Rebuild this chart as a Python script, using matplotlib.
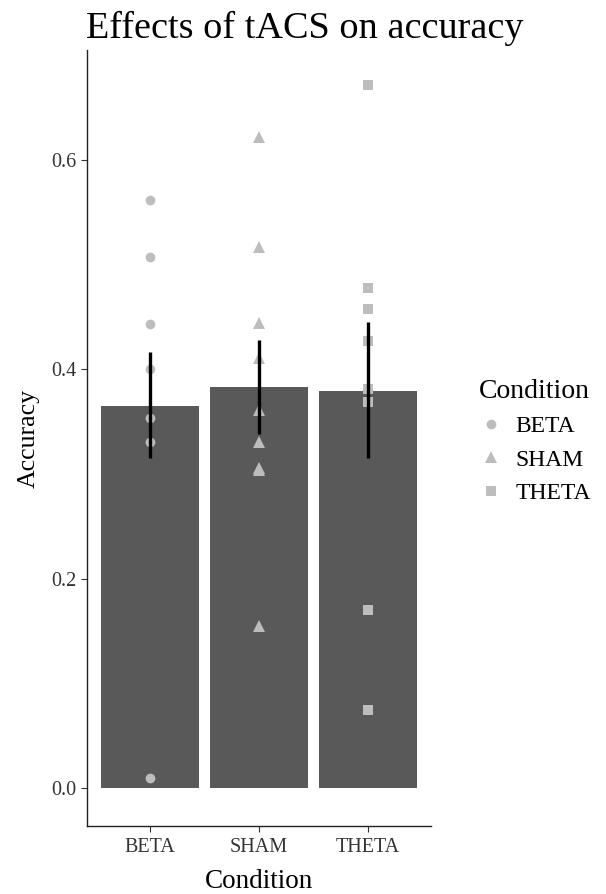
import matplotlib
matplotlib.use("Agg")
import matplotlib.pyplot as plt
from matplotlib.lines import Line2D

# --- data ---
conditions = ["BETA", "SHAM", "THETA"]
bar_means = [0.365, 0.383, 0.379]
err_low = [0.315, 0.338, 0.315]
err_high = [0.417, 0.428, 0.445]

beta_points = [0.562, 0.507, 0.443, 0.400, 0.354, 0.331, 0.010]
sham_points = [0.622, 0.517, 0.444, 0.411, 0.361, 0.331, 0.306, 0.304, 0.155]
theta_points = [0.672, 0.478, 0.458, 0.427, 0.381, 0.369, 0.170, 0.075]

point_sets = [beta_points, sham_points, theta_points]
markers = ["o", "^", "s"]
marker_sizes = [7, 8, 7.5]

plt.rcParams["font.family"] = ["Liberation Serif", "DejaVu Serif"]

BAR_COLOR = "#595959"
PT_COLOR = "#BDBDBD"

fig = plt.figure(figsize=(6.06, 8.94), dpi=100)
ax = fig.add_axes([0.1436, 0.0761, 0.5674, 0.8679])

x = list(range(1, len(conditions) + 1))
ax.bar(x, bar_means, width=0.9, color=BAR_COLOR, zorder=1)

for xi, pts, mk, ms in zip(x, point_sets, markers, marker_sizes):
    ax.plot([xi] * len(pts), pts, linestyle="none", marker=mk,
            markersize=ms, color=PT_COLOR, markeredgewidth=0, zorder=2)

for xi, lo, hi in zip(x, err_low, err_high):
    ax.plot([xi, xi], [lo, hi], color="black", linewidth=2.4,
            solid_capstyle="butt", zorder=3)

ax.set_xlim(0.42, 3.58)
ax.set_ylim(-0.036, 0.705)
ax.set_xticks(x)
ax.set_xticklabels(conditions)
ax.set_yticks([0.0, 0.2, 0.4, 0.6])
ax.set_yticklabels(["0.0", "0.2", "0.4", "0.6"])
ax.tick_params(axis="both", direction="out", length=4, width=0.8,
               labelsize=14.5, colors="#333333", labelcolor="#333333")
ax.tick_params(axis="x", pad=5)

for side in ["top", "right"]:
    ax.spines[side].set_visible(False)
for side in ["left", "bottom"]:
    ax.spines[side].set_linewidth(1.0)
    ax.spines[side].set_color("#222222")

ax.set_xlabel("Condition", fontsize=19.5, labelpad=8)
ax.set_ylabel("Accuracy", fontsize=18.5, labelpad=8)
ax.set_title("Effects of tACS on accuracy", fontsize=27.5, loc="left",
             pad=9, x=-0.002)

handles = [Line2D([], [], linestyle="none", marker=mk, markersize=ms,
                  color=PT_COLOR, markeredgewidth=0)
           for mk, ms in zip(markers, marker_sizes)]
leg = fig.legend(handles, conditions, title="Condition",
                 loc="upper left", bbox_to_anchor=(0.755, 0.6),
                 frameon=False, fontsize=17, title_fontsize=20,
                 handletextpad=0.55, labelspacing=0.5, handlelength=1.0)
leg._legend_box.align = "left"

fig.savefig("out.png", dpi=100, facecolor="white")
